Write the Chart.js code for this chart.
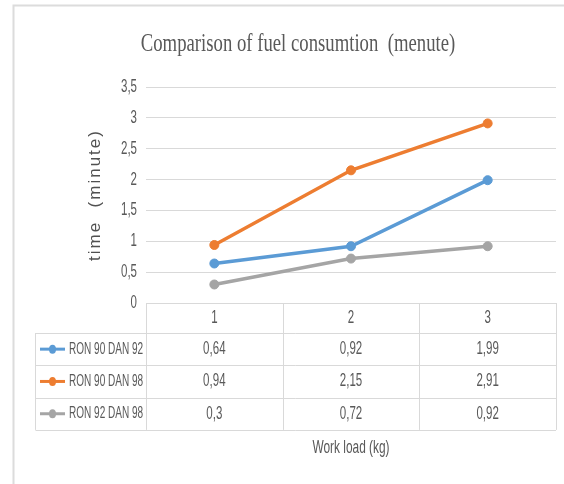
<!DOCTYPE html>
<html>
<head>
<meta charset="utf-8">
<title>Comparison of fuel consumtion</title>
<script src="https://cdn.jsdelivr.net/npm/chart.js@4"></script>
<style>
  html, body { margin: 0; padding: 0; background: #fff; }
</style>
</head>
<body>
<canvas id="lineChart" width="564" height="484"></canvas>
<script>
// Chart data
const categories = ['1', '2', '3'];
const seriesNames = ['RON 90 DAN 92', 'RON 90 DAN 98', 'RON 92 DAN 98'];
const ron90dan92 = [0.64, 0.92, 1.99];
const ron90dan98 = [0.94, 2.15, 2.91];
const ron92dan98 = [0.3, 0.72, 0.92];

const chartTitle = 'Comparison of fuel consumtion  (menute)';
const yTitle = 'time  (minute)';
const xTitle = 'Work load (kg)';

const colors = ['#5B9BD5', '#ED7D31', '#A5A5A5'];
const textColor = '#595959';
const lineColor = '#d9d9d9';
const sans = '"Liberation Sans", Arial, sans-serif';

function comma(v) {
  return String(v).replace('.', ',');
}

// draws text squeezed horizontally (the source picture is condensed)
function squishText(ctx, text, x, y, size, family, sx, align) {
  ctx.save();
  ctx.translate(x, y);
  ctx.scale(sx, 1);
  ctx.font = size + 'px ' + family;
  ctx.fillStyle = textColor;
  ctx.textAlign = align || 'center';
  ctx.textBaseline = 'middle';
  ctx.fillText(text, 0, 0);
  ctx.restore();
}

const tablePlugin = {
  id: 'excelTable',
  beforeDraw(chart) {
    const ctx = chart.ctx;
    ctx.save();
    ctx.fillStyle = '#fff';
    ctx.fillRect(0, 0, chart.width, chart.height);
    // outer frame
    ctx.strokeStyle = '#dcdcdc';
    ctx.lineWidth = 2;
    ctx.beginPath();
    ctx.moveTo(13.5, chart.height);
    ctx.lineTo(13.5, 5.5);
    ctx.lineTo(chart.width, 5.5);
    ctx.stroke();
    ctx.restore();
  },
  afterDraw(chart) {
    const ctx = chart.ctx;
    const area = chart.chartArea;
    const xScale = chart.scales.x;
    const yScale = chart.scales.y;
    const colW = (area.right - area.left) / categories.length;
    const headerTop = area.bottom;
    const headerBottom = headerTop + 30;
    const rowH = 32.3;
    const labelLeft = 35.5;
    const tableBottom = headerBottom + rowH * seriesNames.length;

    // title
    squishText(ctx, chartTitle, 298, 44, 26, '"Liberation Serif", "Times New Roman", serif', 0.72);

    // y tick labels
    yScale.ticks.forEach(t => {
      squishText(ctx, comma(t.value), 137, yScale.getPixelForValue(t.value), 18, sans, 0.64, 'right');
    });

    // y axis title
    ctx.save();
    ctx.translate(95, (area.top + area.bottom) / 2);
    ctx.rotate(-Math.PI / 2);
    ctx.font = '17px ' + sans;
    ctx.letterSpacing = '2px';
    ctx.fillStyle = '#505050';
    ctx.textAlign = 'center';
    ctx.textBaseline = 'middle';
    ctx.fillText(yTitle, 0, 0);
    ctx.restore();

    // table grid
    ctx.save();
    ctx.strokeStyle = lineColor;
    ctx.lineWidth = 1;
    ctx.beginPath();
    ctx.moveTo(area.left, Math.round(headerTop) + 0.5);
    ctx.lineTo(area.right, Math.round(headerTop) + 0.5);
    for (let i = 0; i <= seriesNames.length; i++) {
      const y = Math.round(headerBottom + rowH * i) + 0.5;
      ctx.moveTo(labelLeft, y);
      ctx.lineTo(area.right, y);
    }
    for (let k = 0; k <= categories.length; k++) {
      const x = Math.round(area.left + colW * k) + 0.5;
      ctx.moveTo(x, headerTop);
      ctx.lineTo(x, tableBottom);
    }
    ctx.moveTo(labelLeft, headerBottom);
    ctx.lineTo(labelLeft, tableBottom);
    ctx.stroke();
    ctx.restore();

    // header row
    categories.forEach((c, i) => {
      squishText(ctx, c, xScale.getPixelForValue(i), (headerTop + headerBottom) / 2, 18, sans, 0.64);
    });

    // series rows with legend keys
    chart.data.datasets.forEach((ds, r) => {
      const cy = headerBottom + rowH * r + rowH / 2;
      ctx.save();
      ctx.strokeStyle = ds.borderColor;
      ctx.fillStyle = ds.borderColor;
      ctx.lineWidth = 3;
      ctx.beginPath();
      ctx.moveTo(40, cy);
      ctx.lineTo(65, cy);
      ctx.stroke();
      ctx.beginPath();
      ctx.ellipse(52.5, cy, 3.5, 4.5, 0, 0, Math.PI * 2);
      ctx.fill();
      ctx.restore();
      squishText(ctx, ds.label, 69, cy, 17, sans, 0.59, 'left');
      ds.data.forEach((v, i) => {
        squishText(ctx, comma(v), xScale.getPixelForValue(i), cy, 18, sans, 0.64);
      });
    });

    // x axis title
    squishText(ctx, xTitle, xScale.getPixelForValue(1), 448, 18, sans, 0.66);
  }
};

const seriesValues = [ron90dan92, ron90dan98, ron92dan98];

const ctx = document.getElementById('lineChart').getContext('2d');
const lineChart = new Chart(ctx, {
  type: 'line',
  data: {
    labels: categories,
    datasets: seriesNames.map((name, i) => ({
      label: name,
      data: seriesValues[i],
      borderColor: colors[i],
      backgroundColor: colors[i],
      pointBackgroundColor: colors[i],
      pointBorderColor: colors[i],
      borderWidth: 3.5,
      pointRadius: 4.5,
      pointBorderWidth: 1,
      tension: 0
    }))
  },
  options: {
    responsive: false,
    animation: false,
    layout: {
      padding: { top: 87, left: 0, right: 8, bottom: 0 }
    },
    plugins: {
      legend: { display: false },
      title: { display: false },
      tooltip: { enabled: false }
    },
    scales: {
      x: {
        type: 'category',
        offset: true,
        grid: { display: false },
        border: { display: false },
        ticks: { display: false },
        afterFit(scale) { scale.height = 181; }
      },
      y: {
        min: 0,
        max: 3.5,
        ticks: { display: false, stepSize: 0.5 },
        grid: { color: lineColor, drawTicks: false },
        border: { display: false },
        afterFit(scale) { scale.width = 146; }
      }
    }
  },
  plugins: [tablePlugin]
});
</script>
</body>
</html>
